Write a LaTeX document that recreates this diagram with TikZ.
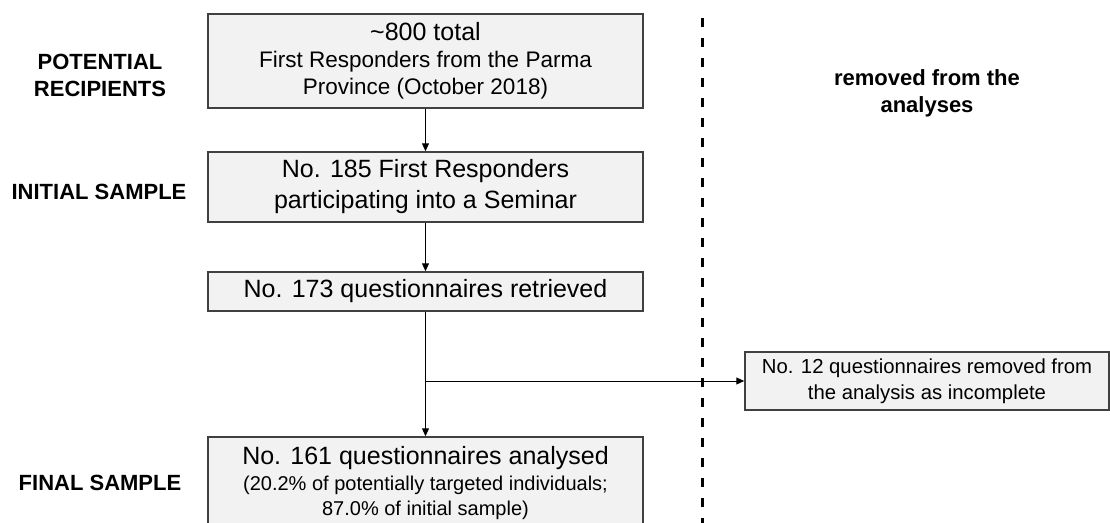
\documentclass[tikz,border=0pt]{standalone}
\usepackage{fontspec}
\setmainfont{Liberation Sans}
\usetikzlibrary{arrows.meta}
\tikzset{
  flowbox/.style={draw=black!75, line width=1.5pt, fill=black!5, inner sep=0pt, align=center},
  stage/.style={font=\bfseries\fontsize{22}{27}\selectfont, align=center, inner sep=0pt},
  flowarrow/.style={-{Triangle[width=7pt,length=8pt]}, line width=1pt},
  divider/.style={line width=3pt, dash pattern=on 9pt off 11pt}
}
\begin{document}
\begin{tikzpicture}[x=1pt,y=-1pt]
\useasboundingbox (0,0) rectangle (1110,522);
\clip (0,0) rectangle (1110,522);

% stage names on the left
\node[stage] (potential) at (100,75.5) {POTENTIAL\\RECIPIENTS};
\node[stage] (initiallabel) at (99,192) {INITIAL SAMPLE};
\node[stage] (finallabel) at (100,483) {FINAL SAMPLE};
\node[stage] (removedlabel) at (927,93) {removed from the\\analyses};

% main column
\node[flowbox, minimum width=435pt, minimum height=94pt, font=\fontsize{22.5}{27}\selectfont]
  (recipients) at (425.5,61) {{\fontsize{25}{27}\selectfont\textasciitilde800 total}\\First Responders from the Parma\\Province (October 2018)};
\node[flowbox, minimum width=435pt, minimum height=70pt, font=\fontsize{25}{31}\selectfont]
  (initial) at (425.5,187) {No. 185 First Responders\\participating into a Seminar};
\node[flowbox, minimum width=435pt, minimum height=39pt, font=\fontsize{25}{28}\selectfont]
  (retrieved) at (425.5,291.5) {No. 173 questionnaires retrieved};
\node[flowbox, minimum width=435pt, minimum height=93pt, font=\fontsize{20}{25.5}\selectfont]
  (analysed) at (425.5,483.5) {{\fontsize{25}{27}\selectfont No. 161 questionnaires analysed}\\(20.2\% of potentially targeted individuals;\\87.0\% of initial sample)};

% excluded
\node[flowbox, minimum width=364pt, minimum height=58pt, font=\fontsize{20.3}{26}\selectfont]
  (removed) at (927,381) {No. 12 questionnaires removed from\\the analysis as incomplete};

% divider
\coordinate (divtop) at (702,18);
\coordinate (divbot) at (702,530);
\draw[divider] (divtop) -- (divbot);

\draw[flowarrow] (recipients) -- (initial);
\draw[flowarrow] (initial) -- (retrieved);
\draw[flowarrow] (retrieved) -- (analysed);
\coordinate (split) at (425.5,381);
\draw[flowarrow] (split) -- (removed);
\end{tikzpicture}
\end{document}
